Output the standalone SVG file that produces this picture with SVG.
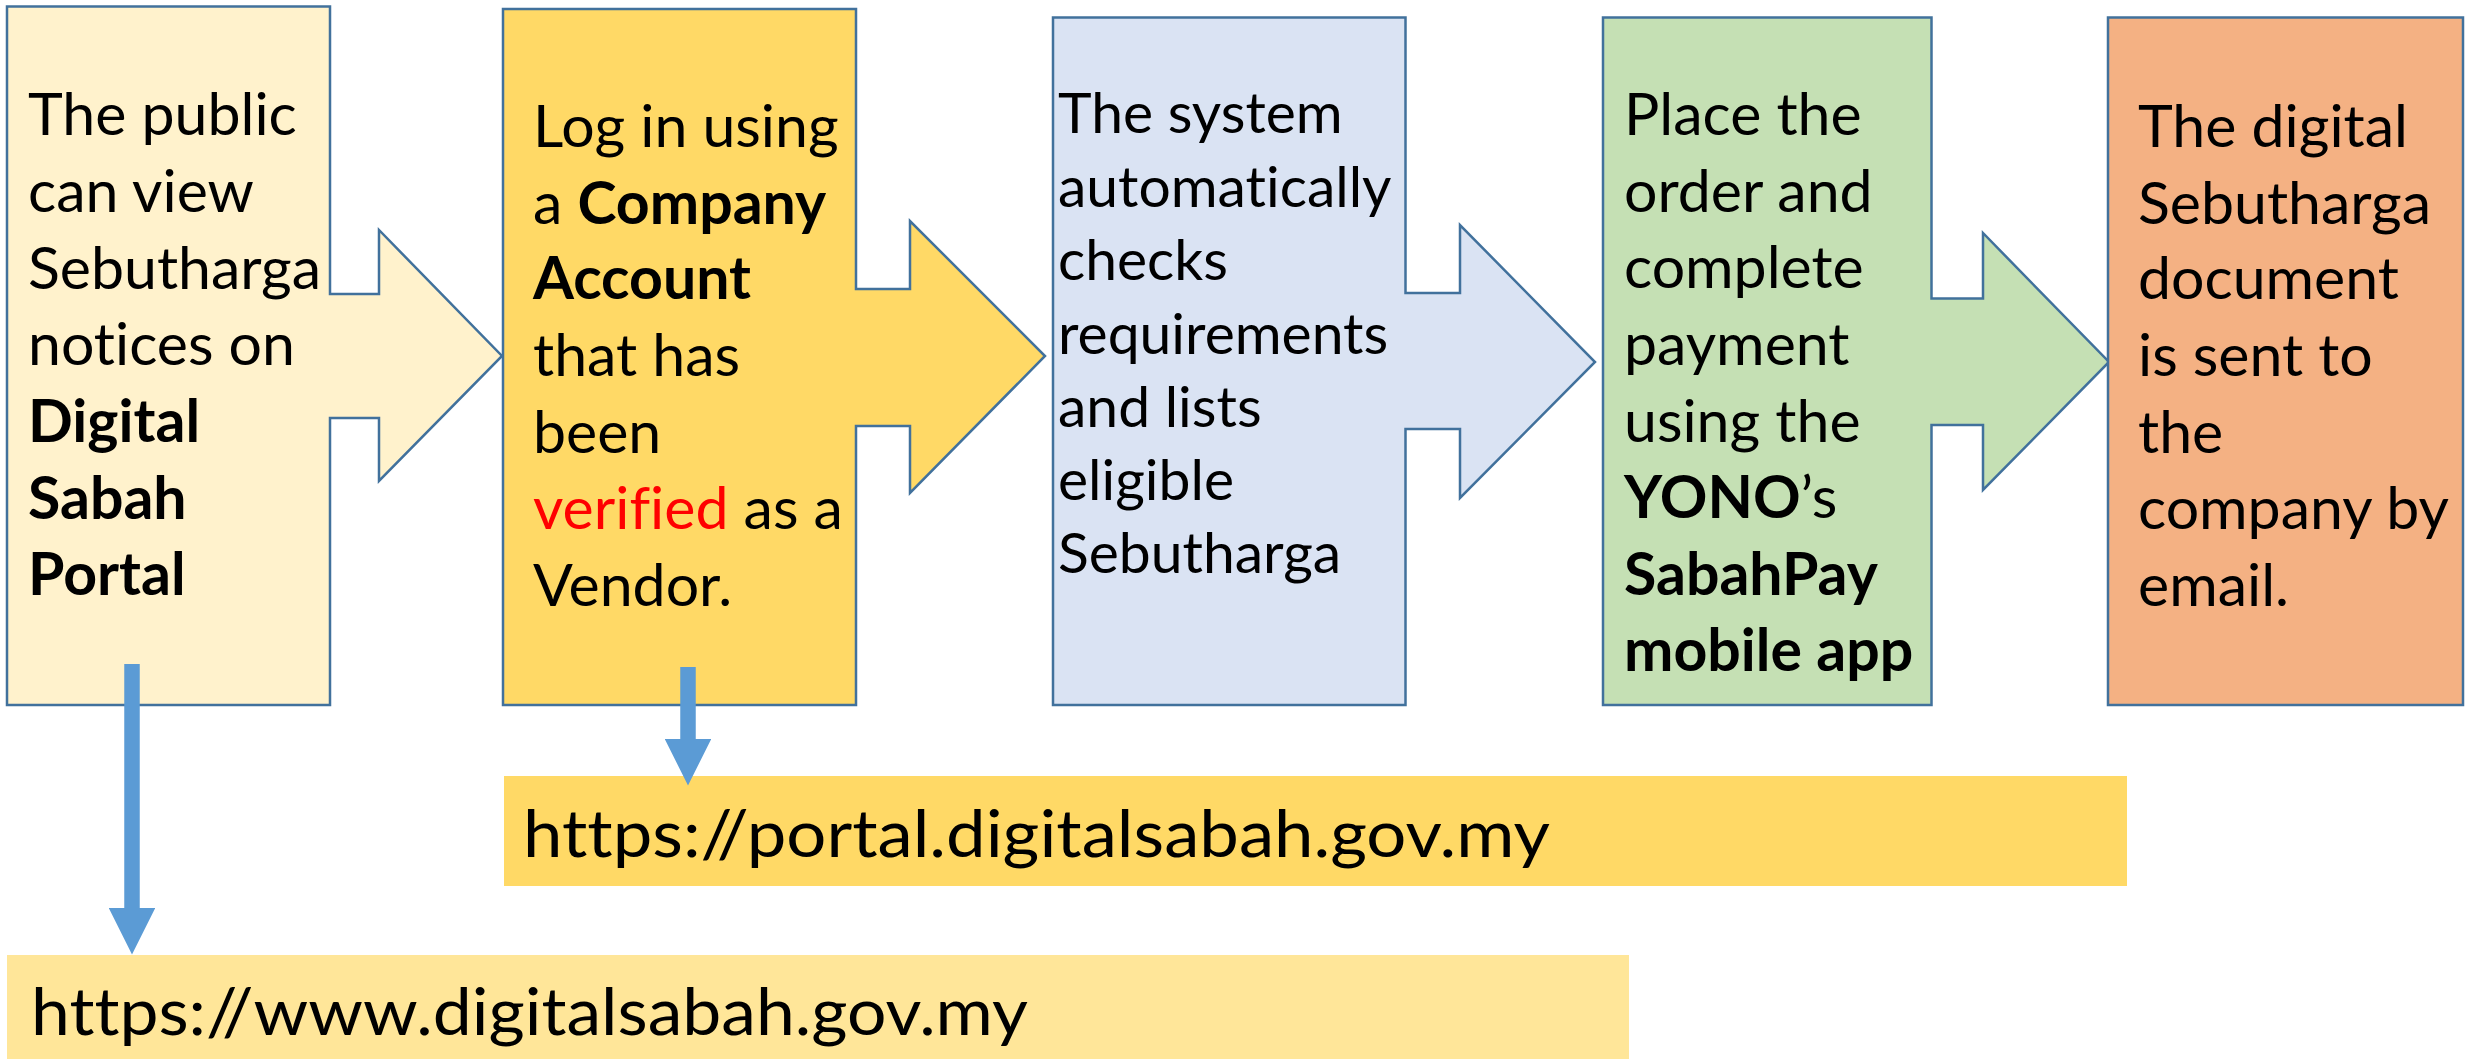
<svg xmlns="http://www.w3.org/2000/svg" width="2465" height="1059" viewBox="0 0 2465 1059">
<defs>
<style>
.box{stroke:#41719C;stroke-width:2.5;stroke-linejoin:miter}
.t{font-family:Lato,"Open Sans","Liberation Sans",sans-serif;font-size:59px;fill:#000;font-variant-ligatures:none}
.s{font-size:57px}
.b{font-weight:bold}
.red{fill:#FF0000}
.url{font-family:Lato,"Open Sans","Liberation Sans",sans-serif;font-size:66px;fill:#000;font-variant-ligatures:none}
.conn{stroke:#5B9BD5;stroke-width:15.5;fill:none}
</style>
<marker id="ah" markerUnits="strokeWidth" markerWidth="3" markerHeight="3" refX="0" refY="1.5" orient="auto" viewBox="0 0 3 3">
<path d="M0,0 L3,1.5 L0,3 Z" fill="#5B9BD5"/>
</marker>
</defs>
<rect width="2465" height="1059" fill="#FFFFFF"/>

<g id="node1">
<path class="box" fill="#FFF2CC" d="M7,6.5 H330 V294 H379 V230 L502,356 L379,481 V418 H330 V705 H7 Z"/>
<text class="t" x="28" y="135">The public</text>
<text class="t" x="28" y="212">can view</text>
<text class="t" x="28" y="289">Sebutharga</text>
<text class="t" x="28" y="365">notices on</text>
<text class="t b" x="28" y="442">Digital</text>
<text class="t b" x="28" y="519">Sabah</text>
<text class="t b" x="28" y="595">Portal</text>
</g>

<g id="node2">
<path class="box" fill="#FFD966" d="M503,9 H856 V289 H910 V221 L1045,356 L910,493 V426 H856 V705 H503 Z"/>
<text class="t" x="533" y="147">Log in using</text>
<text class="t" x="533" y="224">a <tspan class="b">Company</tspan></text>
<text class="t b" x="533" y="299">Account</text>
<text class="t" x="533" y="376">that has</text>
<text class="t" x="533" y="453">been</text>
<text class="t" x="533" y="529"><tspan class="red">verified</tspan> as a</text>
<text class="t" x="533" y="606">Vendor.</text>
</g>

<g id="node3">
<path class="box" fill="#DAE3F3" d="M1053,17.5 H1405.5 V293 H1460 V225 L1595,362 L1460,498 V429 H1405.5 V705 H1053 Z"/>
<text class="t s" x="1058" y="133">The system</text>
<text class="t s" x="1058" y="207">automatically</text>
<text class="t s" x="1058" y="280">checks</text>
<text class="t s" x="1058" y="354">requirements</text>
<text class="t s" x="1058" y="427">and lists</text>
<text class="t s" x="1058" y="500">eligible</text>
<text class="t s" x="1058" y="573">Sebutharga</text>
</g>

<g id="node4">
<path class="box" fill="#C5E0B4" d="M1603,17.5 H1931.5 V298.5 H1983 V233 L2109,362 L1983,490 V425 H1931.5 V705 H1603 Z"/>
<text class="t" x="1624" y="135">Place the</text>
<text class="t" x="1624" y="212">order and</text>
<text class="t" x="1624" y="288">complete</text>
<text class="t" x="1624" y="365">payment</text>
<text class="t" x="1624" y="442">using the</text>
<text class="t" x="1624" y="518"><tspan class="b">YONO</tspan>’s</text>
<text class="t b" x="1624" y="595">SabahPay</text>
<text class="t b" x="1624" y="671">mobile app</text>
</g>

<g id="node5">
<rect class="box" fill="#F4B183" x="2108" y="17.5" width="355" height="687.5"/>
<text class="t" x="2138" y="147">The digital</text>
<text class="t" x="2138" y="224">Sebutharga</text>
<text class="t" x="2138" y="299">document</text>
<text class="t" x="2138" y="376">is sent to</text>
<text class="t" x="2138" y="453">the</text>
<text class="t" x="2138" y="529">company by</text>
<text class="t" x="2138" y="606">email.</text>
</g>

<g id="url-portal">
<rect x="504" y="776" width="1623" height="110" fill="#FFD966"/>
<text class="url" x="523" y="857" textLength="1027" lengthAdjust="spacingAndGlyphs">https://portal.digitalsabah.gov.my</text>
</g>

<g id="url-www">
<rect x="7" y="955" width="1622" height="104" fill="#FFE699"/>
<text class="url" x="31" y="1035" textLength="997" lengthAdjust="spacingAndGlyphs">https://www.digitalsabah.gov.my</text>
</g>

<g id="connectors">
<line class="conn" x1="132" y1="664" x2="132" y2="908" marker-end="url(#ah)"/>
<line class="conn" x1="688" y1="667" x2="688" y2="739" marker-end="url(#ah)"/>
</g>
</svg>
